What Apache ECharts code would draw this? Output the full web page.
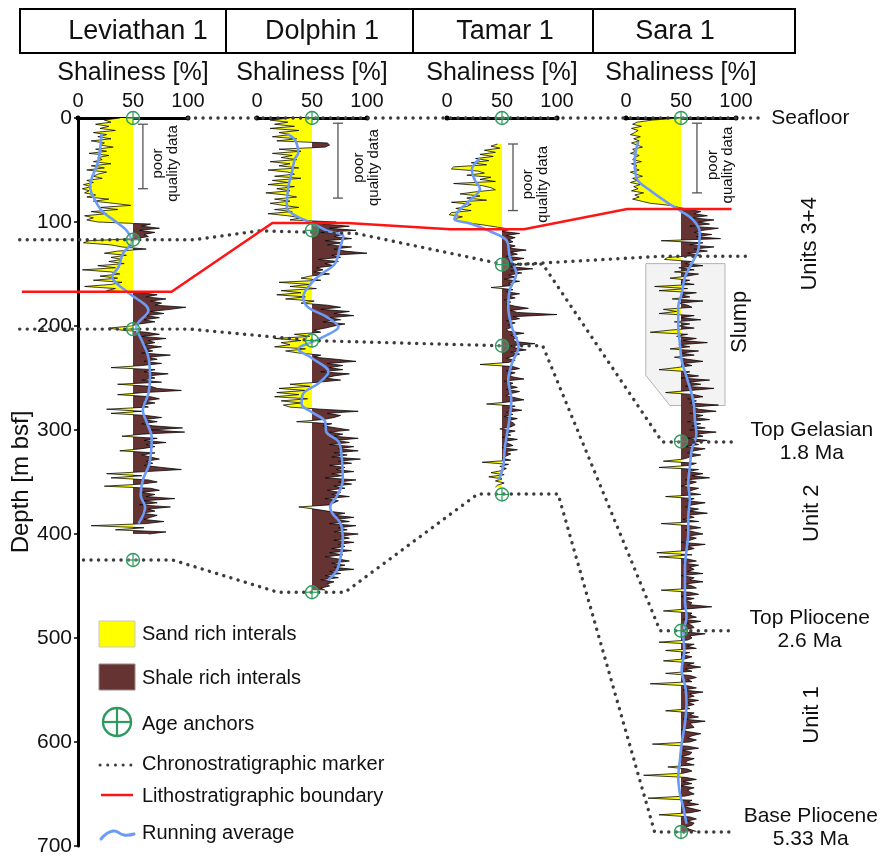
<!DOCTYPE html>
<html>
<head>
<meta charset="utf-8">
<title>Shaliness well correlation</title>
<script src="https://cdn.jsdelivr.net/npm/echarts@6/dist/echarts.min.js"></script>
<style>
  html, body { margin: 0; padding: 0; background: #fff; }
  #chart { width: 884px; height: 857px; }
</style>
</head>
<body>
<div id="chart"></div>
<script>
// ---- Well names and log sampling ----
const wellNames = ['Leviathan 1', 'Dolphin 1', 'Tamar 1', 'Sara 1'];
const logStep = 2; // metres between log samples
const logTops = [0, 0, 25, 0]; // first sampled depth of each log [m bsf]

// ---- Shaliness logs [%], one value every logStep metres from the log top ----
const leviathanShale = [
  38,24,30,16,28,20,34,14,26,18,
  30,12,24,20,32,16,26,10,28,18,
  22,14,30,12,24,8,26,18,14,22,
  8,14,5,12,4,10,6,16,8,28,
  14,32,48,20,36,12,26,6,14,8,
  18,66,58,74,56,70,60,64,52,10,
  5,30,40,62,36,24,44,30,40,28,
  42,18,34,4,30,38,20,36,14,40,
  30,6,34,26,58,72,62,80,66,76,
  70,98,84,66,78,62,74,60,70,56,
  48,28,40,62,74,58,80,64,70,60,
  76,62,68,58,84,64,72,60,76,58,
  30,70,60,82,64,70,58,76,36,66,
  72,94,60,36,66,74,60,70,58,64,
  26,58,30,62,76,60,72,58,68,95,
  66,97,58,40,72,60,80,62,70,58,
  38,70,58,66,74,62,68,60,76,94,
  62,26,58,30,64,72,58,24,66,74,
  58,70,62,88,60,72,56,84,64,70,
  58,72,66,60,78,62,12,60,34,80,
  64
];
const dolphinShale = [
  30,12,28,16,34,12,38,20,30,14,
  36,18,64,66,62,20,40,14,32,22,
  36,12,30,20,38,10,28,34,16,40,
  14,28,10,34,18,30,8,26,36,16,
  30,12,24,38,16,32,10,28,40,30,
  72,60,84,66,90,58,78,70,86,62,
  78,64,86,70,80,100,68,76,56,74,
  62,70,54,60,52,66,48,40,58,20,
  48,30,54,22,40,18,44,26,52,40,
  64,76,58,84,70,88,66,76,60,80,
  70,62,52,58,34,48,16,40,22,30,
  16,44,26,38,58,52,72,90,64,78,
  66,78,58,84,70,62,76,56,30,48,
  20,44,18,38,16,46,22,40,24,30,
  58,92,64,76,70,60,36,68,60,72,
  84,66,78,70,92,72,84,66,88,74,
  92,70,82,68,94,74,86,66,80,72,
  88,68,78,62,90,74,86,70,80,64,
  76,68,84,62,74,70,66,38,52,64,
  80,70,88,72,84,66,90,74,82,70,
  92,76,84,70,88,74,80,68,86,66,
  78,62,74,84,68,80,70,88,66,76,
  62,74,58,70,64,66,58,62
];
const tamarShale = [
  46,40,48,34,44,30,42,26,38,22,
  36,6,4,28,34,18,40,30,44,6,
  32,40,44,26,12,30,18,36,4,22,
  18,8,22,4,2,14,6,10,20,34,
  46,58,50,66,54,62,56,60,54,62,
  56,72,58,64,54,70,60,56,64,58,
  78,58,68,56,62,52,66,56,60,40,
  60,54,66,56,62,52,58,54,62,74,
  58,64,100,60,66,54,62,56,60,54,
  56,70,58,64,60,62,80,58,62,72,
  58,66,60,54,62,56,30,60,66,54,
  62,56,60,70,52,60,56,64,54,66,
  58,54,62,70,56,36,62,56,68,54,
  60,52,64,56,60,62,58,48,62,54,
  58,50,64,52,56,60,50,64,52,58,
  54,50,58,32,56,48,54,50,40,52,
  38,50,44,52,46,44
];
const saraShale = [
  48,24,10,6,14,5,11,8,4,13,
  7,12,5,10,15,6,9,4,12,8,
  6,14,5,10,7,12,4,9,15,6,
  10,4,13,7,11,5,16,8,12,6,
  14,22,40,48,58,68,62,74,60,80,
  66,76,58,84,70,62,78,64,86,32,
  70,58,80,62,74,56,68,38,35,60,
  54,70,48,62,44,66,56,40,58,50,
  62,26,56,30,64,50,58,42,70,48,
  56,60,34,46,30,62,50,68,44,58,
  48,62,40,22,56,46,64,52,74,48,
  58,40,66,50,62,44,56,70,52,60,
  46,30,58,52,66,50,76,56,68,54,
  80,58,36,62,70,56,64,58,84,60,
  66,82,58,70,62,76,56,68,60,72,
  58,82,64,70,56,74,60,66,54,72,
  62,56,68,58,52,34,64,58,30,66,
  56,70,60,76,54,64,58,50,66,60,
  56,68,36,62,56,72,60,54,66,58,
  74,56,62,52,66,32,58,68,54,62,
  70,56,64,58,50,72,56,62,54,28,
  60,30,56,64,52,66,58,62,56,70,
  50,62,58,70,54,60,64,32,58,66,
  50,62,54,60,58,78,56,34,60,58,
  64,52,68,56,60,62,54,52,72,58,
  60,56,30,62,56,64,36,58,50,60,
  54,34,62,56,68,54,60,36,58,64,
  56,60,22,56,64,52,70,58,62,54,
  66,56,62,54,58,36,62,58,66,52,
  72,58,60,62,50,56,68,60,56,64,
  58,24,56,66,52,60,58,50,62,56,
  54,62,38,56,60,52,16,54,64,52,
  60,50,62,56,58,62,54,20,60,56,
  66,52,60,68,58,30,58,64,56,62,
  60,54,58,64
];

// ---- Running averages: depth [m bsf] and shaliness [%] ----
const leviathanAvgDepth = [15, 41, 66, 76, 89, 101, 108, 119, 130, 143, 153, 159, 169, 185, 201, 214, 230, 249, 265, 281, 294, 307, 332, 348, 363, 374, 390];
const leviathanAvgValue = [21.5, 18.5, 11, 14, 21.5, 36, 44, 49, 41, 37, 31, 35, 47, 64, 53, 58, 64, 65.5, 64, 59, 63, 67, 65, 59, 57, 61, 55];
const dolphinAvgDepth = [15, 21, 34, 39, 53, 66, 86, 93.5, 101, 108, 114, 124, 140, 149, 158, 172, 182, 191, 201, 209, 215, 222, 231, 244, 255, 265, 275, 283, 292, 302, 311, 326, 348, 364, 374, 380, 390, 406, 422, 435, 444];
const dolphinAvgValue = [27, 34.5, 37.5, 34.5, 31.5, 28.5, 27, 34.5, 50, 63, 78.5, 75.5, 71, 60, 50, 42, 46.5, 63, 74, 63, 51, 37.5, 50, 65, 56, 42, 40.5, 50, 62, 63, 74, 77, 78, 72.5, 66.5, 68.5, 76, 78, 76, 72.5, 65];
const tamarAvgDepth = [39, 50, 60, 68, 79, 90, 97, 101.5, 109.6, 117.6, 133.6, 149.6, 165.7, 181.7, 201, 220, 236, 252, 271, 290.6, 316, 335.6, 348];
const tamarAvgValue = [30, 22.5, 25.5, 30, 21, 10, 7, 21, 40.6, 54, 57, 63, 57, 55.7, 59, 65, 59, 55.7, 58.5, 56.6, 52.7, 51, 47];
const saraAvgDepth = [23, 40.7, 58, 69.5, 82, 90, 98, 109.6, 127, 140, 153, 169, 181.7, 201, 217, 233, 249, 271, 290.7, 303.5, 319.5, 335.6, 351.5, 367.6, 383.6, 399.6, 415.7, 431.7, 447.7, 463.7, 479.8, 495.8, 511.8, 531, 547, 563, 582, 601.5, 617.6, 633.7, 649.6, 662.5, 678.5];
const saraAvgValue = [11, 8, 9.7, 21.8, 38.5, 50.6, 61, 67, 65.7, 59.7, 53.6, 50.6, 47.5, 47.5, 49, 50.6, 55, 61, 62.7, 64, 59.7, 58, 56.6, 58, 56.6, 56.6, 55, 53.6, 53.6, 53.6, 55, 52, 53, 50.6, 54, 55, 53.6, 50.6, 49, 47.5, 49, 52, 55];

// ---- Age anchors (depth, m bsf) ----
const leviathanAnchors = [0, 117, 203, 425];
const dolphinAnchors = [0, 108, 214, 456];
const tamarAnchors = [0, 141, 219, 362];
const saraAnchors = [0, 311, 493, 686.5];

// ---- Correlation lines as [well, shaliness position, depth] vertices ----
const seafloorMarker = [[0, 100, 0], [3, 122, 0]];
const gelasianMarker = [[0, -53, 117], [0, 106, 117], [1, 2, 108.5], [1, 90, 111], [2, 50, 140.5], [2, 87, 140.5], [3, 33, 311.5], [3, 101, 311.5]];
const slumpTopMarker = [[2, 60, 141], [3, 31, 133], [3, 113, 133]];
const plioceneTopMarker = [[0, -53, 203], [0, 102, 203], [1, 50, 214], [2, 50, 219], [2, 87, 219], [3, 31, 493], [3, 93, 493]];
const plioceneBaseMarker = [[0, 5, 425], [0, 86, 425], [1, 19, 456], [1, 80, 456], [2, 28, 361.5], [2, 101, 361.5], [3, 26, 686.5], [3, 95, 686.5]];
const lithoBoundary = [[0, -51, 167], [0, 85, 167], [1, 14, 101], [1, 82, 101], [2, 3, 107], [2, 70, 107], [3, 1, 87.5], [3, 96, 87.5]];
const slumpOutline = [[3, 18, 140], [3, 90, 140], [3, 90, 276.5], [3, 40, 276.5], [3, 18, 247.5]];

// ---- Poor quality data intervals: [well, bar position, top, base, text position] ----
const poorQuality = [[0, 59, 6, 68, 79], [1, 73.6, 5, 77, 99], [2, 60, 25, 89, 80], [3, 64.5, 5, 72, 86]];

// ---- Right-hand annotations on the Sara 1 track: [text, shaliness position, depth, rotated] ----
const sideLabels = [
  ['Units 3+4', 167, 121, true],
  ['Slump', 104, 196, true],
  ['Top Gelasian\n1.8 Ma', 169, 311.5, false],
  ['Unit 2', 169, 380, true],
  ['Top Pliocene\n2.6 Ma', 167, 492, false],
  ['Unit 1', 169, 574, true],
  ['Base Pliocene\n5.33 Ma', 168, 682, false]
];

const depthTicks = [0, 100, 200, 300, 400, 500, 600, 700];

// ---- Layout ----
const FONT = '"Liberation Sans", Arial, sans-serif';
const trackLeft = [78, 257, 447, 626];
const trackWidth = 110;
const plotTop = 118, plotHeight = 728;
const SAND = '#ffff00', SHALE = '#663333', ANCHOR = '#2e9a5e', AVG = '#6b9bf7', DOTS = '#3c3c3c', LITHO = '#ff1414';

const shaleLogs = [leviathanShale, dolphinShale, tamarShale, saraShale];
const avgDepths = [leviathanAvgDepth, dolphinAvgDepth, tamarAvgDepth, saraAvgDepth];
const avgValues = [leviathanAvgValue, dolphinAvgValue, tamarAvgValue, saraAvgValue];
const anchors = [leviathanAnchors, dolphinAnchors, tamarAnchors, saraAnchors];
const logs = shaleLogs.map((vals, k) => vals.map((v, i) => [v, logTops[k] + i * logStep]));

const chart = echarts.init(document.getElementById('chart'));

// sand/shale fill either side of the 50 % cut-off
function lithologyFill(pts) {
  return function (params, api) {
    const first = pts[0][1], last = pts[pts.length - 1][1];
    const sand = [api.coord([50, first])], shale = [api.coord([50, first])];
    for (let i = 0; i < pts.length; i++) {
      const v = pts[i][0], d = pts[i][1];
      if (i > 0) {
        const pv = pts[i - 1][0], pd = pts[i - 1][1];
        if ((pv - 50) * (v - 50) < 0) {
          const t = (50 - pv) / (v - pv);
          const c = api.coord([50, pd + t * (d - pd)]);
          sand.push(c); shale.push(c);
        }
      }
      sand.push(api.coord([Math.min(v, 50), d]));
      shale.push(api.coord([Math.max(v, 50), d]));
    }
    sand.push(api.coord([50, last])); shale.push(api.coord([50, last]));
    return {
      type: 'group',
      children: [
        { type: 'polygon', shape: { points: sand }, style: { fill: SAND } },
        { type: 'polygon', shape: { points: shale }, style: { fill: SHALE } }
      ]
    };
  };
}

function anchorSymbol(params, api) {
  const c = api.coord([api.value(0), api.value(1)]);
  const r = 6.5;
  return {
    type: 'group',
    children: [
      { type: 'circle', shape: { cx: c[0], cy: c[1], r: r }, style: { fill: 'rgba(255,255,255,0.2)', stroke: ANCHOR, lineWidth: 1.4 } },
      { type: 'line', shape: { x1: c[0] - r, y1: c[1], x2: c[0] + r, y2: c[1] }, style: { stroke: ANCHOR, lineWidth: 1.2 } },
      { type: 'line', shape: { x1: c[0], y1: c[1] - r, x2: c[0], y2: c[1] + r }, style: { stroke: ANCHOR, lineWidth: 1.2 } }
    ]
  };
}

const grids = [], xAxes = [], yAxes = [], series = [];
wellNames.forEach((name, k) => {
  grids.push({ left: trackLeft[k], top: plotTop, width: trackWidth, height: plotHeight, containLabel: false });
  xAxes.push({
    gridIndex: k, type: 'value', position: 'top', min: 0, max: 100, interval: 50,
    name: 'Shaliness [%]', nameLocation: 'middle', nameGap: 31,
    nameTextStyle: { fontSize: 25, color: '#111', fontFamily: FONT },
    axisLine: { show: true, symbol: ['circle', 'circle'], symbolSize: [5, 5], lineStyle: { color: '#000', width: 3 } },
    axisTick: { show: false },
    axisLabel: { fontSize: 20, color: '#111', fontFamily: FONT, margin: 7 },
    splitLine: { show: false }
  });
  yAxes.push({
    gridIndex: k, type: 'value', inverse: true, min: 0, max: 700, interval: 100,
    show: k === 0,
    name: 'Depth [m bsf]', nameLocation: 'middle', nameGap: 44, nameRotate: 90,
    nameTextStyle: { fontSize: 24, color: '#111', fontFamily: FONT },
    axisLine: { show: true, lineStyle: { color: '#000', width: 3 } },
    axisTick: { show: true, length: 4, lineStyle: { color: '#000', width: 1.5 } },
    axisLabel: { fontSize: 21, color: '#111', fontFamily: FONT, margin: 6, customValues: depthTicks },
    splitLine: { show: false }
  });
  series.push({
    type: 'custom', name: name + ' lithology', xAxisIndex: k, yAxisIndex: k, clip: false, silent: true, z: 2,
    data: [[50, logs[k][0][1]]], renderItem: lithologyFill(logs[k])
  });
  series.push({
    type: 'line', name: name + ' shaliness', xAxisIndex: k, yAxisIndex: k, data: logs[k],
    showSymbol: false, symbol: 'none', silent: true, z: 3,
    lineStyle: { color: '#000', width: 0.75 }
  });
  series.push({
    type: 'line', name: name + ' running average', xAxisIndex: k, yAxisIndex: k,
    data: avgDepths[k].map((d, i) => [avgValues[k][i], d]),
    showSymbol: false, symbol: 'none', smooth: 0.35, silent: true, z: 5,
    lineStyle: { color: AVG, width: 2.6 }
  });
  series.push({
    type: 'custom', name: name + ' age anchors', xAxisIndex: k, yAxisIndex: k, clip: false, silent: true, z: 12,
    data: anchors[k].map(d => [50, d]), renderItem: anchorSymbol
  });
});

chart.setOption({
  animation: false,
  backgroundColor: '#fff',
  textStyle: { fontFamily: FONT },
  grid: grids, xAxis: xAxes, yAxis: yAxes, series: series
});

// ---- Overlay: correlation lines, annotations, header and key ----
const px = (w, v, d) => chart.convertToPixel({ gridIndex: w }, [v, d]);
const toPixels = verts => verts.map(p => px(p[0], p[1], p[2]));
const g = [];

function dotted(verts) {
  g.push({ type: 'polyline', z: 10, silent: true, shape: { points: toPixels(verts) },
    style: { stroke: DOTS, lineWidth: 3.4, lineDash: [0.1, 7.4], lineCap: 'round', fill: 'none' } });
}
function text(x, y, str, size, opts) {
  g.push(Object.assign({ type: 'text', x: x, y: y, z: 20, silent: true,
    style: Object.assign({ text: str, fontSize: size, fontFamily: FONT, fill: '#111', align: 'center', verticalAlign: 'middle' }, opts && opts.style || {}) },
    opts && opts.el || {}));
}

// slump body behind the Sara log
g.push({ type: 'polygon', z: 1, silent: true, shape: { points: toPixels(slumpOutline) },
  style: { fill: '#f3f3f3', stroke: '#b4b4b4', lineWidth: 1 } });

[seafloorMarker, gelasianMarker, slumpTopMarker, plioceneTopMarker, plioceneBaseMarker].forEach(dotted);
g.push({ type: 'polyline', z: 11, silent: true, shape: { points: toPixels(lithoBoundary) },
  style: { stroke: LITHO, lineWidth: 2.5, fill: 'none' } });

// poor quality data brackets
poorQuality.forEach(q => {
  const a = px(q[0], q[1], q[2]), b = px(q[0], q[1], q[3]);
  g.push({ type: 'line', z: 8, silent: true, shape: { x1: a[0], y1: a[1], x2: b[0], y2: b[1] }, style: { stroke: '#555', lineWidth: 1.3 } });
  g.push({ type: 'line', z: 8, silent: true, shape: { x1: a[0] - 5, y1: a[1], x2: a[0] + 5, y2: a[1] }, style: { stroke: '#555', lineWidth: 1.3 } });
  g.push({ type: 'line', z: 8, silent: true, shape: { x1: b[0] - 5, y1: b[1], x2: b[0] + 5, y2: b[1] }, style: { stroke: '#555', lineWidth: 1.3 } });
  const t = px(q[0], q[4], (q[2] + q[3]) / 2);
  text(t[0], t[1] + 7, 'poor\nquality data', 15, { el: { rotation: Math.PI / 2 }, style: { lineHeight: 15 } });
});

// seafloor and stratigraphic annotations
const sf = px(3, 132, 0);
text(sf[0], sf[1], 'Seafloor', 21, { style: { align: 'left' } });
sideLabels.forEach(l => {
  const p = px(3, l[1], l[2]);
  text(p[0], p[1], l[0], l[3] ? 22 : 21, { el: l[3] ? { rotation: Math.PI / 2 } : {}, style: { lineHeight: 23 } });
});

// header row with well names
g.push({ type: 'rect', z: 20, silent: true, shape: { x: 20, y: 9, width: 775, height: 44 }, style: { fill: 'none', stroke: '#000', lineWidth: 2 } });
[226, 413, 593].forEach(x => g.push({ type: 'line', z: 20, silent: true, shape: { x1: x, y1: 9, x2: x, y2: 53 }, style: { stroke: '#000', lineWidth: 2 } }));
[138, 322, 505, 675].forEach((x, k) => text(x, 32, wellNames[k], 27));

// key
const keyX = 99, keyTextX = 142;
g.push({ type: 'rect', z: 20, silent: true, shape: { x: keyX, y: 621, width: 36, height: 26 }, style: { fill: SAND, stroke: '#c8c8c8', lineWidth: 1 } });
g.push({ type: 'rect', z: 20, silent: true, shape: { x: keyX, y: 664, width: 36, height: 26 }, style: { fill: SHALE, stroke: '#9a8a8a', lineWidth: 1 } });
g.push({ type: 'circle', z: 20, silent: true, shape: { cx: 117, cy: 722, r: 14 }, style: { fill: 'none', stroke: ANCHOR, lineWidth: 2.4 } });
g.push({ type: 'line', z: 20, silent: true, shape: { x1: 103, y1: 722, x2: 131, y2: 722 }, style: { stroke: ANCHOR, lineWidth: 2.2 } });
g.push({ type: 'line', z: 20, silent: true, shape: { x1: 117, y1: 708, x2: 117, y2: 736 }, style: { stroke: ANCHOR, lineWidth: 2.2 } });
g.push({ type: 'line', z: 20, silent: true, shape: { x1: 100, y1: 765, x2: 131, y2: 765 }, style: { stroke: DOTS, lineWidth: 3, lineDash: [0.1, 7.6], lineCap: 'round' } });
g.push({ type: 'line', z: 20, silent: true, shape: { x1: 101, y1: 795, x2: 133, y2: 795 }, style: { stroke: LITHO, lineWidth: 2.5 } });
g.push({ type: 'polyline', z: 20, silent: true, shape: { points: [[101, 839], [113, 831], [124, 835], [134, 834]], smooth: 0.5 }, style: { stroke: AVG, lineWidth: 3, fill: 'none', lineCap: 'round' } });
const keyLabels = [['Sand rich interals', 634], ['Shale rich interals', 678], ['Age anchors', 724], ['Chronostratigraphic marker', 764], ['Lithostratigraphic boundary', 796], ['Running average', 833]];
keyLabels.forEach(k => text(keyTextX, k[1], k[0], 20, { style: { align: 'left' } }));

chart.setOption({ graphic: { elements: g } });
</script>
</body>
</html>
